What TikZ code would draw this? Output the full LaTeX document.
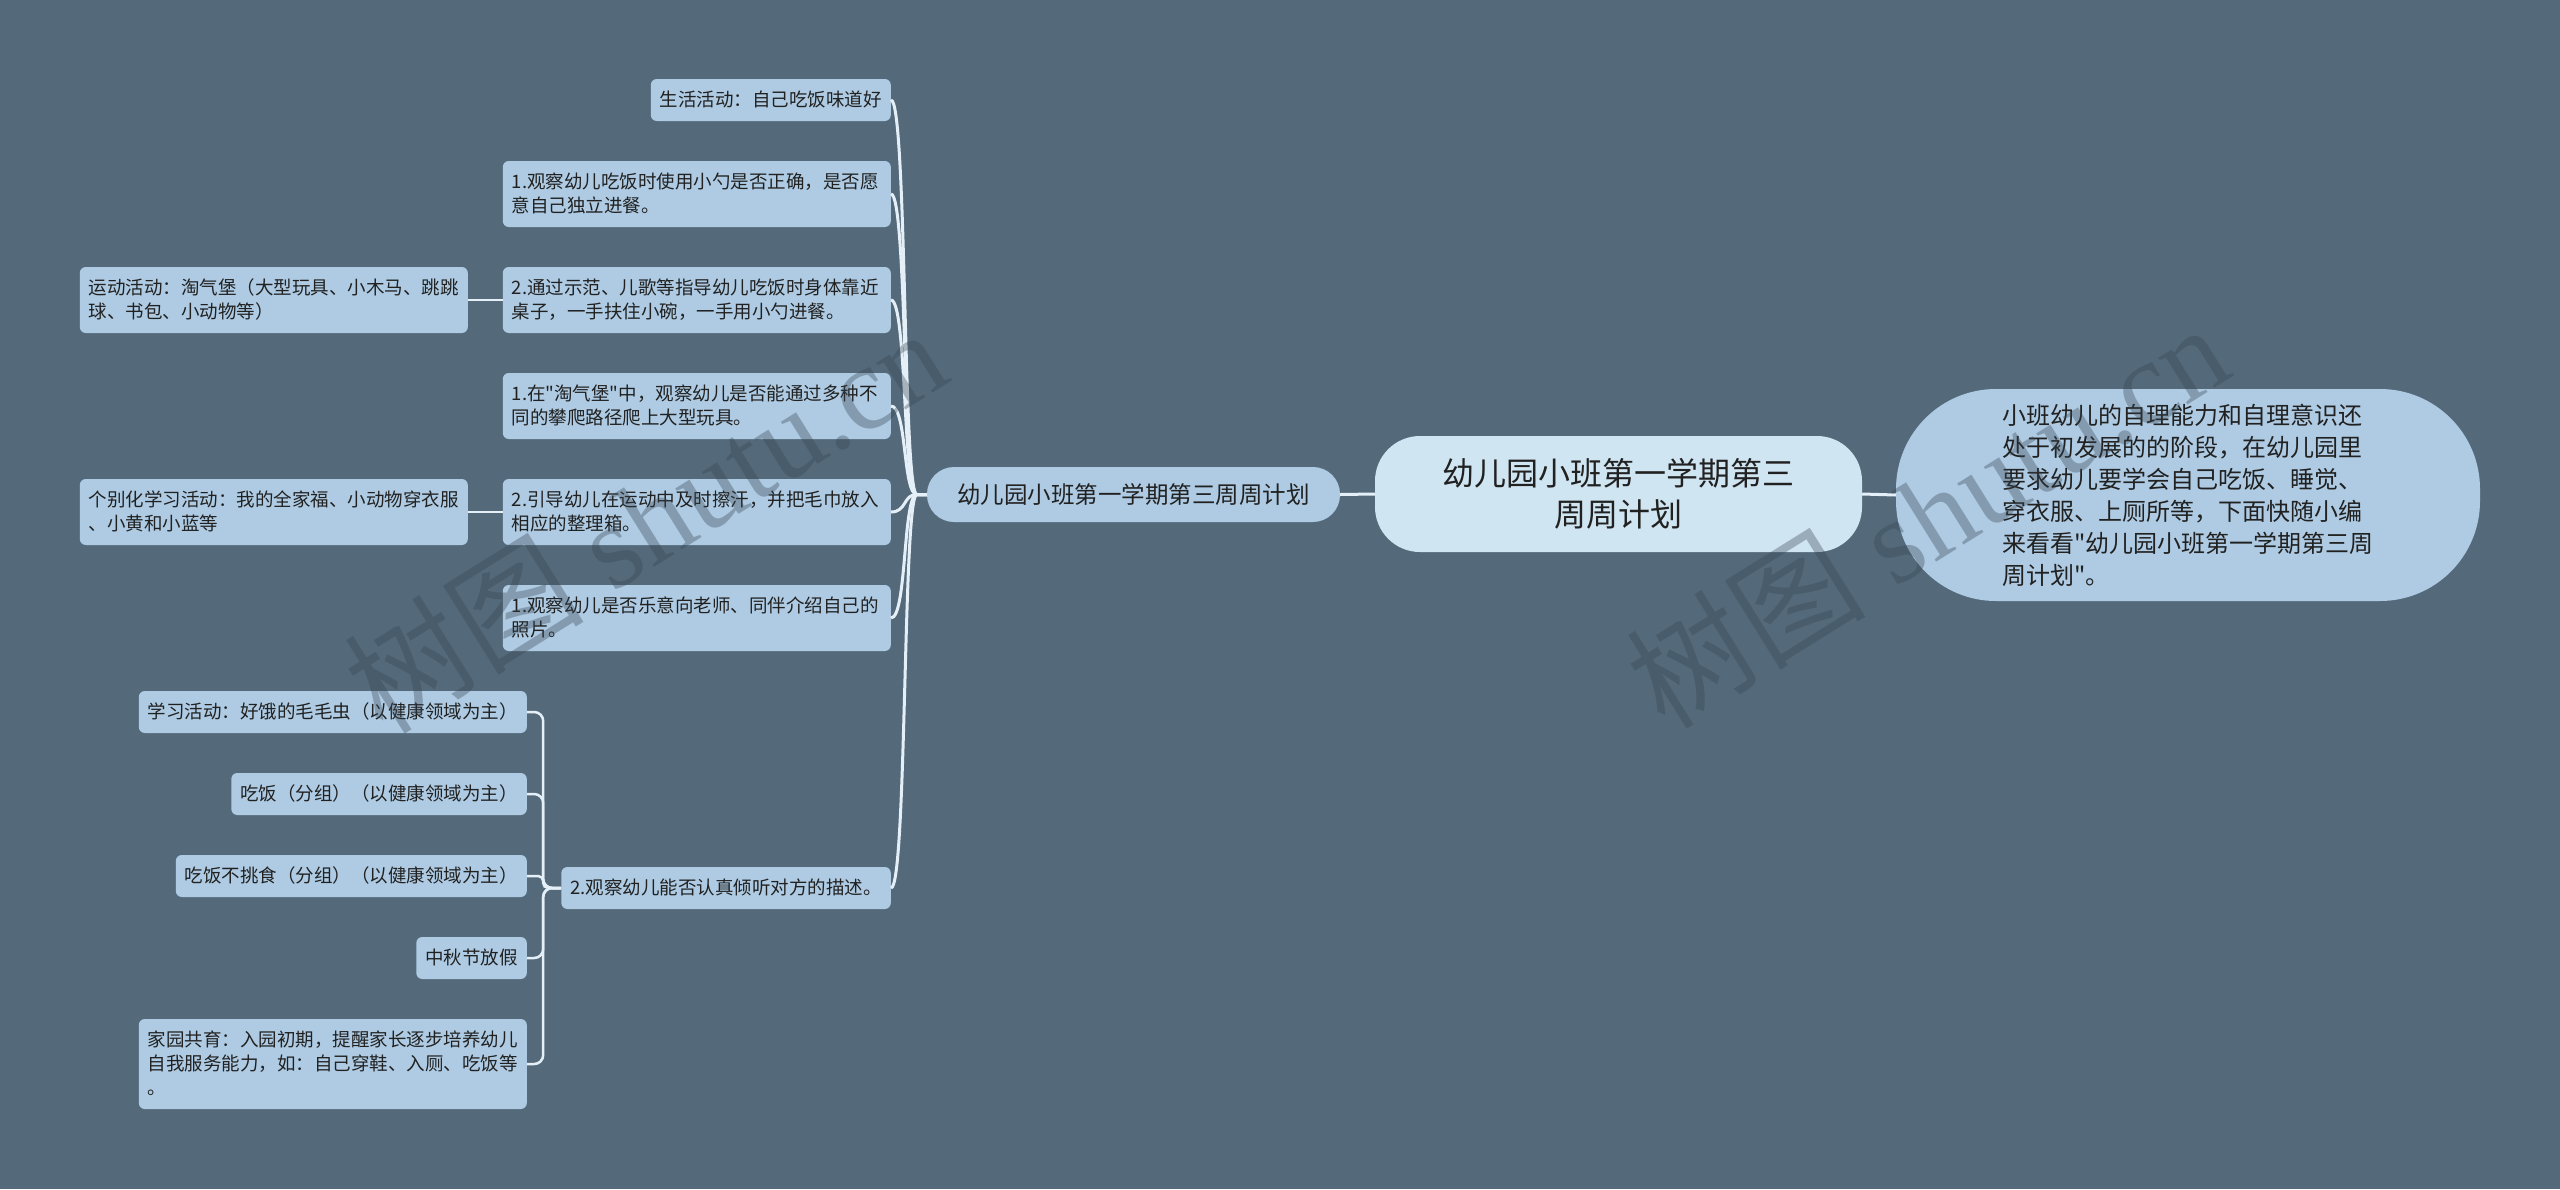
\documentclass[tikz,border=0pt]{standalone}
\usepackage{fontspec}
\setmainfont{Noto Sans CJK SC}[Ligatures=TeXOff]
\newfontfamily\cjk{Noto Sans CJK SC}
\newfontfamily\wmfont{Liberation Serif}
\definecolor{bgc}{RGB}{84,106,122}
\definecolor{nodefill}{RGB}{174,203,227}
\definecolor{rootfill}{RGB}{208,229,242}
\definecolor{linec}{RGB}{228,239,247}
\definecolor{textc}{RGB}{33,33,33}
\definecolor{wmc}{RGB}{55,68,80}
\newcommand\ls{\rule[-5.2pt]{0pt}{24pt}}
\begin{document}
\begin{tikzpicture}[x=1pt,y=-1pt,
  leaf/.style={fill=nodefill, rounded corners=6pt, inner xsep=9pt, inner ysep=9pt,
    anchor=east, text=textc, font=\fontsize{18.5pt}{24pt}\selectfont},
  wide/.style={leaf, text width=370pt, align=left},
  subn/.style={fill=nodefill, rounded corners=27pt, minimum width=413pt, minimum height=55pt,
    inner sep=0pt, text=textc, font=\fontsize{23.5pt}{28pt}\selectfont},
  rootn/.style={fill=rootfill, rounded corners=45pt, minimum width=487pt, minimum height=116pt,
    inner sep=0pt, align=center, text=textc, font=\fontsize{32pt}{41pt}\selectfont},
  rightn/.style={fill=nodefill, rounded corners=100pt, minimum width=584pt, minimum height=212pt,
    inner sep=0pt, align=left, text=textc, font=\fontsize{24pt}{32pt}\selectfont},
  conn/.style={draw=linec, line width=2.5pt},
  mainconn/.style={draw=linec, line width=3pt},
  wm/.style={text=wmc, text opacity=0.35, font=\wmfont\fontsize{120pt}{120pt}\selectfont, inner sep=0pt}
]
\useasboundingbox (0,0) rectangle (2560,1189);
\fill[bgc] (0,0) rectangle (2560,1189);

% central nodes
\node[rootn] (root) at (1618.5,494) {幼儿园小班第一学期第三\\周周计划};
\node[subn] (sub) at (1133.5,494.5) {幼儿园小班第一学期第三周周计划};
\node[rightn] (right) at (2188,495) {小班幼儿的自理能力和自理意识还\\处于初发展的的阶段，在幼儿园里\\要求幼儿要学会自己吃饭、睡觉、\\穿衣服、上厕所等，下面快随小编\\来看看"幼儿园小班第一学期第三周\\周计划"。};

% level 2
\node[leaf] (n1) at (891,100) {\ls 生活活动：自己吃饭味道好};
\node[wide] (n2) at (891,194) {\ls 1.观察幼儿吃饭时使用小勺是否正确，是否愿\\\ls 意自己独立进餐。};
\node[wide] (n3) at (891,300) {\ls 2.通过示范、儿歌等指导幼儿吃饭时身体靠近\\\ls 桌子，一手扶住小碗，一手用小勺进餐。};
\node[wide] (n4) at (891,406) {\ls 1.在"淘气堡"中，观察幼儿是否能通过多种不\\\ls 同的攀爬路径爬上大型玩具。};
\node[wide] (n5) at (891,512) {\ls 2.引导幼儿在运动中及时擦汗，并把毛巾放入\\\ls 相应的整理箱。};
\node[wide] (n6) at (891,618) {\ls 1.观察幼儿是否乐意向老师、同伴介绍自己的\\\ls 照片。};
\node[leaf] (n7) at (891,888) {\ls 2.观察幼儿能否认真倾听对方的描述。};

% level 3
\node[wide] (c3) at (468,300) {\ls 运动活动：淘气堡（大型玩具、小木马、跳跳\\\ls 球、书包、小动物等）};
\node[wide] (c5) at (468,512) {\ls 个别化学习活动：我的全家福、小动物穿衣服\\\ls 、小黄和小蓝等};
\node[leaf] (k1) at (527,712) {\ls 学习活动：好饿的毛毛虫（以健康领域为主）};
\node[leaf] (k2) at (527,794) {\ls 吃饭（分组）（以健康领域为主）};
\node[leaf] (k3) at (527,876) {\ls 吃饭不挑食（分组）（以健康领域为主）};
\node[leaf] (k4) at (527,958) {\ls 中秋节放假};
\node[wide] (k5) at (527,1064) {\ls 家园共育：入园初期，提醒家长逐步培养幼儿\\\ls 自我服务能力，如：自己穿鞋、入厕、吃饭等\\\ls 。};

% connectors
\draw[mainconn] (sub.east) -- (root.west);
\draw[mainconn] (root.east) -- (right.west);
\foreach \c in {n1,n2,n3,n4,n5,n6,n7}
  \draw[mainconn] (sub.west) -- ++(-10,0) .. controls +(-14,0) and +(16,0) .. (\c.east);
\draw[conn] (n3.west) -- (c3.east);
\draw[conn] (n5.west) -- (c5.east);
\foreach \c in {k1,k2,k4,k5}
  \draw[conn, rounded corners=9pt] (n7.west) -- ++(-18,0) |- (\c.east);
\draw[conn, rounded corners=5pt] (n7.west) -- ++(-18,0) |- (k3.east);

% watermarks
\node[wm, rotate=32] (wm1) at (645,519) {{\cjk 树图} shutu.cn};
\node[wm, rotate=32] (wm2) at (1927,514) {{\cjk 树图} shutu.cn};
\end{tikzpicture}
\end{document}
